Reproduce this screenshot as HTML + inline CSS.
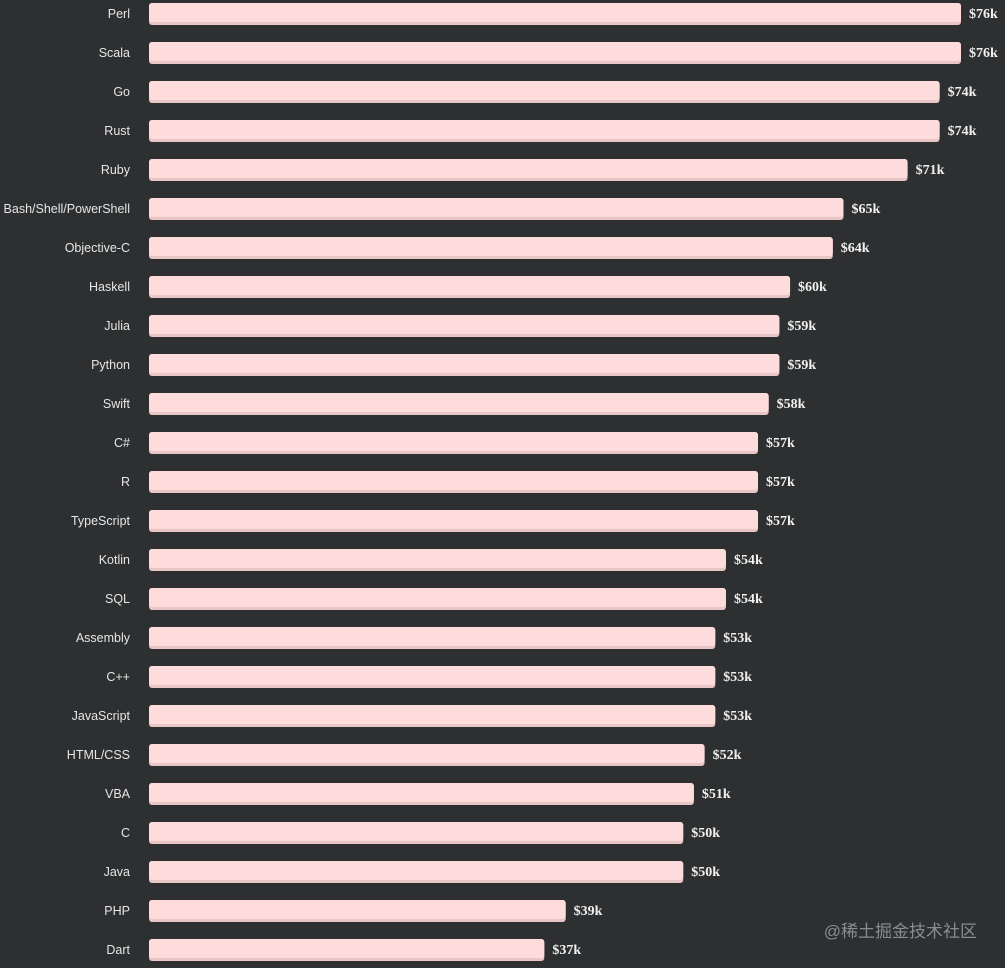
<!DOCTYPE html>
<html><head><meta charset="utf-8"><style>
body{margin:0;width:1005px;height:968px;background:#2d2f31;overflow:hidden;font-family:"Liberation Sans",sans-serif}
svg{display:block}
</style></head><body>
<svg id="chart" width="1005" height="968">
<text x="977" y="937" text-anchor="end" fill="#8a8c8e" font-size="17" font-family="'Liberation Sans','Noto Sans CJK SC',sans-serif">@稀土掘金技术社区</text>
</svg>
<script>
const languages=["Perl","Scala","Go","Rust","Ruby","Bash/Shell/PowerShell","Objective-C","Haskell","Julia","Python","Swift","C#","R","TypeScript","Kotlin","SQL","Assembly","C++","JavaScript","HTML/CSS","VBA","C","Java","PHP","Dart"];
const salaries=[76,76,74,74,71,65,64,60,59,59,58,57,57,57,54,54,53,53,53,52,51,50,50,39,37];
const valueLabels=salaries.map(v=>"$"+v+"k");
const svg=document.getElementById('chart');
const NS="http://www.w3.org/2000/svg";
const x0=149, pxPerK=(961-149)/76;
function xScale(v){return x0+v*pxPerK;}
function yScale(i){return 3+i*39;}
languages.forEach((lang,i)=>{
  const y=yScale(i), w=xScale(salaries[i])-x0;
  const g=document.createElementNS(NS,'g');
  
  
  const sh=document.createElementNS(NS,'rect');
  sh.setAttribute('x',x0);sh.setAttribute('y',y);sh.setAttribute('width',w);sh.setAttribute('height',22);sh.setAttribute('rx',3);sh.setAttribute('fill','#e9c6c6');
  
  
  g.appendChild(sh);
  const r=document.createElementNS(NS,'rect');
  r.setAttribute('x',x0);r.setAttribute('y',y);r.setAttribute('width',w);r.setAttribute('height',19);r.setAttribute('rx',3);r.setAttribute('fill','#ffdcdc');
  
  
  g.appendChild(r);
  const t=document.createElementNS(NS,'text');
  t.setAttribute('x',130);t.setAttribute('y',y+15);t.setAttribute('text-anchor','end');t.setAttribute('fill','#e6e6e6');t.setAttribute('font-size','12.5');
  t.textContent=lang;
  
  
  g.appendChild(t);
  const v=document.createElementNS(NS,'text');
  v.setAttribute('x',xScale(salaries[i])+8);v.setAttribute('y',y+15);v.setAttribute('fill','#f0f0f0');v.setAttribute('font-size','14');v.setAttribute('font-weight','bold');v.setAttribute('font-family','"Liberation Serif",serif');
  v.textContent=valueLabels[i];
  
  
  g.appendChild(v);
  svg.appendChild(g);
});
</script>
</body></html>
